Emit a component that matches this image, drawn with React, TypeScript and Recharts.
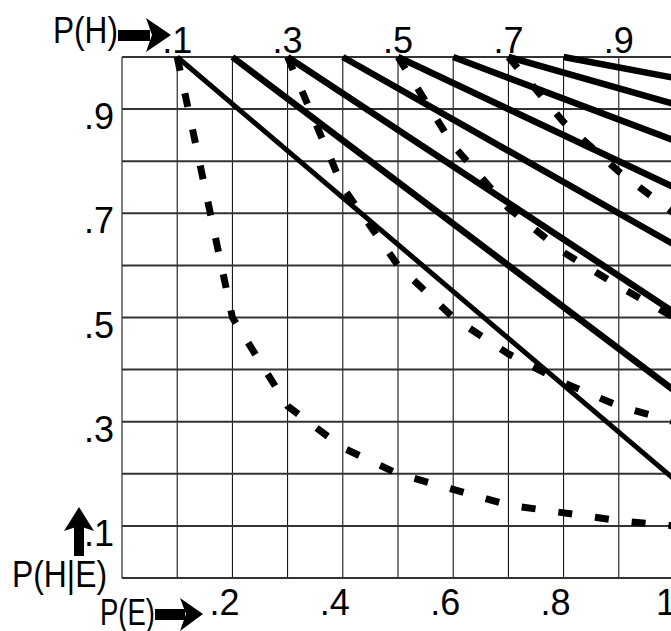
import React from 'react';
import { LineChart, Line, XAxis, YAxis, CartesianGrid } from 'recharts';

// P(E) grid positions and the labels shown on each axis
const gridTicks = [0, 0.1, 0.2, 0.3, 0.4, 0.5, 0.6, 0.7, 0.8, 0.9, 1];
const bottomLabels = [0.2, 0.4, 0.6, 0.8, 1];
const topLabels = [0.1, 0.3, 0.5, 0.7, 0.9];
const leftLabels = [0.1, 0.3, 0.5, 0.7, 0.9];

// solid lines: start at (P(H), 1), end at P(E) = 1
const solidStarts = [0.1, 0.2, 0.3, 0.4, 0.5, 0.6, 0.7, 0.8];
const solidEnds = [0.19, 0.36, 0.51, 0.64, 0.75, 0.84, 0.91, 0.96];

// dashed curves, one per P(H)
const dashedX1 = [0.1, 0.2, 0.3, 0.4, 0.5, 0.6, 0.7, 0.8, 0.9, 1];
const dashedY1 = [1, 0.5, 0.33, 0.25, 0.2, 0.17, 0.14, 0.125, 0.11, 0.1];
const dashedX3 = [0.3, 0.4, 0.5, 0.6, 0.7, 0.8, 0.9, 1];
const dashedY3 = [1, 0.75, 0.6, 0.5, 0.43, 0.375, 0.33, 0.3];
const dashedX5 = [0.5, 0.6, 0.7, 0.8, 0.9, 1];
const dashedY5 = [1, 0.83, 0.71, 0.625, 0.56, 0.5];
const dashedX7 = [0.7, 0.8, 0.9, 1];
const dashedY7 = [1, 0.875, 0.78, 0.7];

const FONT = '"Liberation Sans", Arial, sans-serif';

const zip = (xs: number[], ys: number[]) => xs.map((x, i) => ({ x, y: ys[i] }));

const solidSeries = solidStarts.map((s, i) => [
  { x: s, y: 1 },
  { x: 1, y: solidEnds[i] },
]);
const dashedSeries = [
  zip(dashedX1, dashedY1),
  zip(dashedX3, dashedY3),
  zip(dashedX5, dashedY5),
  zip(dashedX7, dashedY7),
];

const fmt = (v: number) => (v === 1 ? '1' : v.toFixed(1).replace(/^0/, ''));
const has = (list: number[], v: number) => list.some((l) => Math.abs(l - v) < 1e-6);

const BottomTick = ({ x, y, payload }: any) => {
  if (!has(bottomLabels, payload.value)) return null;
  return (
    <text x={x - 8} y={y + 37} textAnchor="middle" fontSize={36} fontFamily={FONT} fill="#000">
      {fmt(payload.value)}
    </text>
  );
};

const TopTick = ({ x, y, payload }: any) => (
  <text x={x} y={y - 4} textAnchor="middle" fontSize={36} fontFamily={FONT} fill="#000">
    {fmt(payload.value)}
  </text>
);

const LeftTick = ({ x, y, payload }: any) => {
  if (!has(leftLabels, payload.value)) return null;
  return (
    <text x={x - 8} y={y + 20} textAnchor="end" fontSize={36} fontFamily={FONT} fill="#000">
      {fmt(payload.value)}
    </text>
  );
};

export default function App() {
  return (
    <div style={{ position: 'absolute', left: 0, top: 0, width: 671, height: 631, overflow: 'hidden', background: '#fff' }}>
      <LineChart width={720} height={631} margin={{ top: 17, right: 46, bottom: 13, left: 62 }}>
        <CartesianGrid horizontal={false} stroke="#000" strokeWidth={1} />
        <CartesianGrid vertical={false} stroke="#333" strokeWidth={2} />
        <XAxis
          dataKey="x"
          type="number"
          domain={[0, 1]}
          ticks={gridTicks}
          interval={0}
          height={40}
          tickSize={0}
          tickMargin={0}
          axisLine={false}
          tick={<BottomTick />}
        />
        <XAxis
          xAxisId="top"
          orientation="top"
          dataKey="x"
          type="number"
          domain={[0, 1]}
          ticks={topLabels}
          interval={0}
          height={40}
          tickSize={0}
          tickMargin={0}
          axisLine={false}
          tick={<TopTick />}
        />
        <YAxis
          type="number"
          domain={[0, 1]}
          ticks={gridTicks}
          interval={0}
          width={60}
          tickSize={0}
          tickMargin={0}
          axisLine={false}
          tick={<LeftTick />}
        />
        {solidSeries.map((d, i) => (
          <Line
            key={`s${i}`}
            data={d}
            dataKey="y"
            type="linear"
            stroke="#000"
            strokeWidth={i === 0 ? 5 : 6.5}
            dot={false}
            activeDot={false}
            isAnimationActive={false}
          />
        ))}
        {dashedSeries.map((d, i) => (
          <Line
            key={`d${i}`}
            xAxisId="top"
            data={d}
            dataKey="y"
            type="linear"
            stroke="#000"
            strokeWidth={7}
            strokeDasharray="14 23"
            dot={false}
            activeDot={false}
            isAnimationActive={false}
          />
        ))}
      </LineChart>
      <svg width={671} height={631} style={{ position: 'absolute', left: 0, top: 0, pointerEvents: 'none' }}>
        <g fontFamily={FONT} fontSize={36} fill="#000">
          <text x={53} y={43} textLength={65} lengthAdjust="spacingAndGlyphs">P(H)</text>
          <text x={12} y={587} textLength={95} lengthAdjust="spacingAndGlyphs">P(H|E)</text>
          <text x={100} y={625} textLength={55} lengthAdjust="spacingAndGlyphs">P(E)</text>
        </g>
        {/* arrow next to P(H) */}
        <rect x={118} y={30} width={32} height={11} fill="#000" />
        <polygon points="171,35 146,18 152,35 146,52" fill="#000" />
        {/* arrow next to P(E) */}
        <rect x={155} y={609} width={30} height={11} fill="#000" />
        <polygon points="203,614 180,598 186,614 180,631" fill="#000" />
        {/* arrow above P(H|E) */}
        <rect x={74} y={524} width={10} height={32} fill="#000" />
        <polygon points="79,507 94,531 79,526 64,531" fill="#000" />
      </svg>
    </div>
  );
}
